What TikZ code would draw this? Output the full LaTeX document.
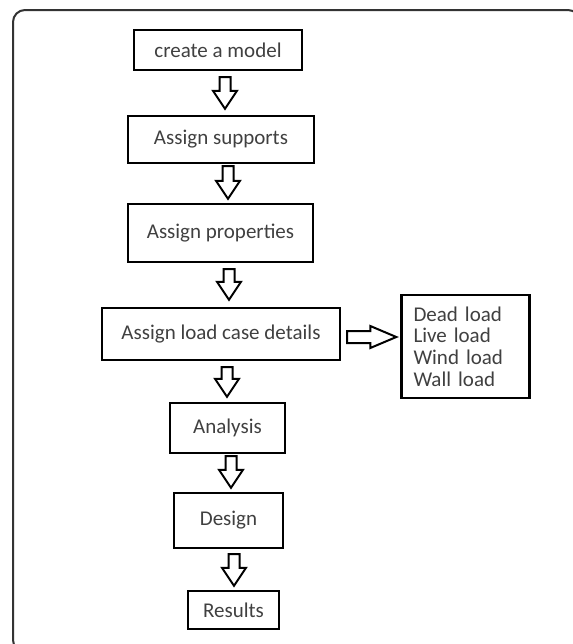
\documentclass[tikz,border=0pt]{standalone}
\usepackage{fontspec}
\setmainfont{Carlito}
\usetikzlibrary{calc}

% hollow block arrows between two boxes
\newcommand{\fatdown}[2]{%
  \draw[arrowline] let \p1=(#1), \p2=(#2) in
    (\x1-2.75pt,\y1) -- (\x1-2.75pt,\y2+9pt) -- (\x1-6pt,\y2+9pt) -- (\x1,\y2)
    -- (\x1+6pt,\y2+9pt) -- (\x1+2.75pt,\y2+9pt) -- (\x1+2.75pt,\y1) -- cycle;}
\newcommand{\fatright}[2]{%
  \draw[arrowline] let \p1=(#1), \p2=(#2) in
    (\x1,\y1+3pt) -- (\x2-13pt,\y1+3pt) -- (\x2-13pt,\y1+5.5pt) -- (\x2,\y1)
    -- (\x2-13pt,\y1-5.5pt) -- (\x2-13pt,\y1-3pt) -- (\x1,\y1-3pt) -- cycle;}

\begin{document}
\begin{tikzpicture}[x=0.5pt, y=-0.5pt,
    box/.style={draw, line width=1.2pt, inner sep=0pt, text=black!75,
                font=\fontsize{10.5}{10.9}\selectfont},
    arrowline/.style={draw, line width=1pt, fill=white},
    frame/.style={draw=black!80, line width=1pt, rounded corners=6pt}]

            \useasboundingbox (0,0) rectangle (573,644);
            \clip (0,0) rectangle (573,644);

            \draw[frame] (13,10) rectangle (580,652);

            \node[box, minimum width=84pt, minimum height=20pt] (model) at (218,50) {create a model};
            \node[box, minimum width=93pt, minimum height=23.5pt] (supports) at (221,139.5) {Assign supports};
            \node[box, minimum width=92.5pt, minimum height=29pt] (properties) at (220.5,233) {Assign properties};
            \node[box, minimum width=119pt, minimum height=26pt] (loadcase) at (221,334) {Assign load case details};
            \node[box, minimum height=51.5pt, text width=52pt, inner xsep=6pt, align=left] (loads) at (465.5,346.5)
                {Dead load\\Live load\\Wind load\\Wall load};
            \node[box, minimum width=57.5pt, minimum height=25pt] (analysis) at (227.5,428) {Analysis};
            \node[box, minimum width=54.5pt, minimum height=27.5pt] (design) at (228.5,520.5) {Design};
            \node[box, minimum width=45.5pt, minimum height=19pt] (results) at (233.5,610) {Results};

            \fatdown{[xshift=3.5pt,yshift=-3pt]model.south}{[yshift=3pt]supports.north}
            \fatdown{[xshift=3.5pt,yshift=-1pt]supports.south}{[yshift=2pt]properties.north}
            \fatdown{[xshift=4.25pt,yshift=-3pt]properties.south}{[yshift=3.5pt]loadcase.north}
            \fatdown{[xshift=3pt,yshift=-3pt]loadcase.south}{[yshift=2.5pt]analysis.north}
            \fatdown{[xshift=1.75pt,yshift=-1pt]analysis.south}{[yshift=2pt]design.north}
            \fatdown{[xshift=2.75pt,yshift=-2.5pt]design.south}{[yshift=2pt]results.north}
            \fatright{[xshift=3pt,yshift=-1.5pt]loadcase.east}{[xshift=-2pt]loads.west}

        \end{tikzpicture}
\end{document}
